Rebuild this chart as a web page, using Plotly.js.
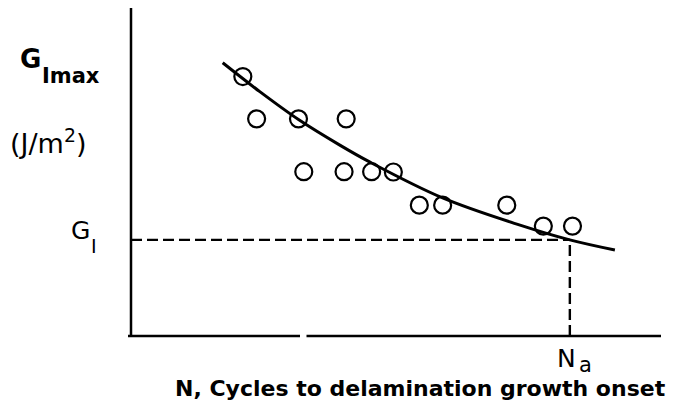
<!DOCTYPE html>
<html>
<head>
<meta charset="utf-8">
<script src="https://cdn.plot.ly/plotly-3.0.1.min.js"></script>
<style>html,body{margin:0;padding:0;background:#fff;}#chart{width:680px;height:410px;}</style>
</head>
<body>
<div id="chart"></div>
<script>
// Test data points (cycles N vs G_Imax), schematic units
const pointsN = [2.11, 2.37, 3.16, 4.06, 3.26, 4.02, 4.54, 4.95, 5.44, 5.88, 7.09, 7.78, 8.33];
const pointsG = [7.91, 6.62, 6.62, 6.62, 5.01, 5.01, 5.01, 5.00, 3.99, 3.99, 3.99, 3.35, 3.35];
// Fitted curve
const curveN = [1.73, 2.43, 3.16, 3.94, 4.51, 5.88, 7.34, 8.28, 9.13];
const curveG = [8.33, 7.45, 6.60, 5.82, 5.30, 4.21, 3.38, 2.93, 2.62];
// Threshold G_I and corresponding N_a
const gI = 2.93;
const nA = 8.28;

const FONT = 'DejaVu Sans, Verdana, sans-serif';

const traces = [
  {x: curveN, y: curveG, mode: 'lines', line: {color: '#000', width: 3, shape: 'spline', smoothing: 1}, hoverinfo: 'skip'},
  {x: [0, nA], y: [gI, gI], mode: 'lines', line: {color: '#000', width: 2.4, dash: '11px,5px'}, hoverinfo: 'skip'},
  {x: [nA, nA], y: [0, gI], mode: 'lines', line: {color: '#000', width: 2.4, dash: '11px,5px'}, hoverinfo: 'skip'},
  {x: pointsN, y: pointsG, mode: 'markers', marker: {symbol: 'circle-open', size: 17, color: '#000', line: {width: 2.2, color: '#000'}}, hoverinfo: 'skip'}
];

function px(p) { return (p - 131) / 530; }
function py(p) { return (336 - p) / 328; }

const ann = (text, x, y, size, bold) => ({
  text: bold ? '<b>' + text + '</b>' : text,
  xref: 'paper', yref: 'paper', x: px(x), y: py(y),
  xanchor: 'center', yanchor: 'middle', showarrow: false,
  font: {family: FONT, size: size, color: '#000'}
});

const layout = {
  width: 680, height: 410,
  margin: {l: 131, r: 19, t: 8, b: 74},
  paper_bgcolor: '#fff', plot_bgcolor: '#fff',
  showlegend: false,
  xaxis: {range: [0, 10], showgrid: false, zeroline: false, showline: false, showticklabels: false, ticks: '', fixedrange: true},
  yaxis: {range: [0, 10], showgrid: false, zeroline: false, showline: false, showticklabels: false, ticks: '', fixedrange: true},
  shapes: [
    {type: 'line', xref: 'paper', yref: 'paper', x0: 0, x1: 0, y0: 0, y1: 1, line: {color: '#000', width: 2.5}},
    {type: 'line', xref: 'paper', yref: 'paper', x0: px(128), x1: px(300), y0: 0, y1: 0, line: {color: '#000', width: 2.5}},
    {type: 'line', xref: 'paper', yref: 'paper', x0: px(306.5), x1: 1, y0: 0, y1: 0, line: {color: '#000', width: 2.5}}
  ],
  annotations: [
    ann('G', 31, 59.5, 26, true),
    ann('Imax', 71, 76, 21, true),
    ann('(J/m<sup>2</sup>)', 47.5, 141, 27, false),
    ann('G', 80.5, 230.5, 25, false),
    ann('I', 93.5, 246, 19, false),
    ann('N', 566, 358, 25, false),
    ann('a', 585, 365, 21, false),
    ann('N, Cycles to delamination growth onset', 420, 388, 22, true)
  ]
};

Plotly.newPlot('chart', traces, layout, {displayModeBar: false, staticPlot: true});
</script>
</body>
</html>
